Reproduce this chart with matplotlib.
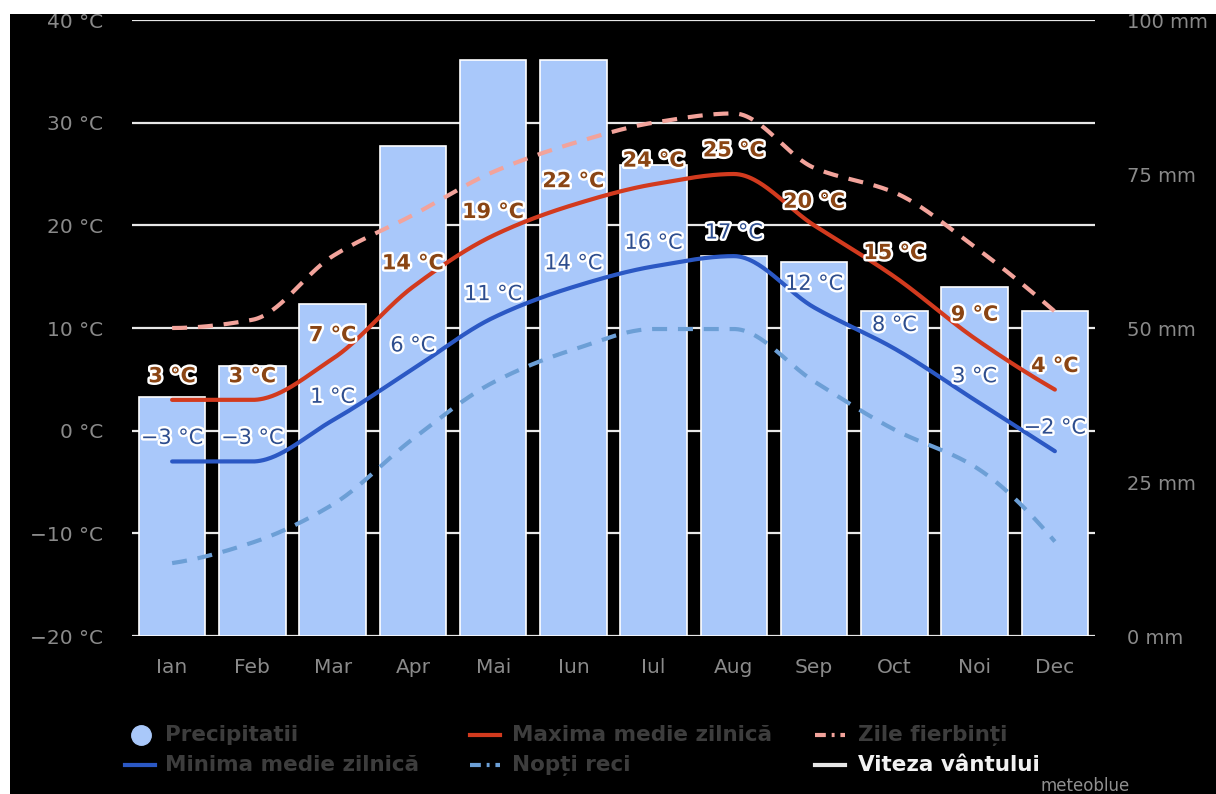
import numpy as np
import matplotlib
matplotlib.use("Agg")
import matplotlib.pyplot as plt
import matplotlib.patheffects as pe
from matplotlib.lines import Line2D
from matplotlib.patches import Rectangle

months = ["Ian", "Feb", "Mar", "Apr", "Mai", "Iun", "Iul", "Aug", "Sep", "Oct", "Noi", "Dec"]
precip_mm = [38.8, 43.8, 53.9, 79.5, 93.5, 93.5, 76.5, 61.7, 60.7, 52.8, 56.7, 52.8]
temp_max = [3, 3, 7, 14, 19, 22, 24, 25, 20, 15, 9, 4]
temp_min = [-3, -3, 1, 6, 11, 14, 16, 17, 12, 8, 3, -2]
hot_days = [10.0, 10.8, 17.0, 21.0, 25.2, 28.0, 30.0, 30.9, 25.6, 23.2, 17.9, 11.6]
cold_nights = [-12.9, -10.9, -7.2, -0.8, 4.7, 7.9, 9.9, 9.9, 4.8, 0.1, -3.5, -10.8]
temp_ticks = [-20, -10, 0, 10, 20, 30, 40]
precip_ticks = [0, 25, 50, 75, 100]

legend_labels = ["Precipitatii", "Maxima medie zilnică", "Zile fierbinți",
                 "Minima medie zilnică", "Nopți reci", "Viteza vântului"]

C_BAR = "#a9c8fa"
C_MAX = "#d23a1e"
C_MIN = "#2b58c4"
C_HOT = "#f2a39b"
C_COLD = "#6c9fd6"
C_MAXLBL = "#8a4514"
C_MINLBL = "#2d4d8e"
C_TICK = "#8a8a8a"
C_LEG = "#3d3d3d"


def pchip(x, y, xs):
    x = np.asarray(x, float)
    y = np.asarray(y, float)
    n = len(x)
    h = np.diff(x)
    delta = np.diff(y) / h
    d = np.zeros(n)
    for k in range(1, n - 1):
        if delta[k - 1] * delta[k] <= 0:
            d[k] = 0.0
        else:
            w1 = 2 * h[k] + h[k - 1]
            w2 = h[k] + 2 * h[k - 1]
            d[k] = (w1 + w2) / (w1 / delta[k - 1] + w2 / delta[k])

    def endslope(h0, h1, d0, d1):
        s = ((2 * h0 + h1) * d0 - h0 * d1) / (h0 + h1)
        if np.sign(s) != np.sign(d0):
            s = 0.0
        elif np.sign(d0) != np.sign(d1) and abs(s) > abs(3 * d0):
            s = 3 * d0
        return s

    d[0] = endslope(h[0], h[1], delta[0], delta[1])
    d[-1] = endslope(h[-1], h[-2], delta[-1], delta[-2])
    out = np.empty_like(xs, dtype=float)
    for i, xv in enumerate(xs):
        k = min(max(np.searchsorted(x, xv) - 1, 0), n - 2)
        t = (xv - x[k]) / h[k]
        h00 = 2 * t**3 - 3 * t**2 + 1
        h10 = t**3 - 2 * t**2 + t
        h01 = -2 * t**3 + 3 * t**2
        h11 = t**3 - t**2
        out[i] = h00 * y[k] + h10 * h[k] * d[k] + h01 * y[k + 1] + h11 * h[k] * d[k + 1]
    return out


W, H = 1216, 794
fig = plt.figure(figsize=(W / 100, H / 100), dpi=100, facecolor="white")
fig.add_artist(Rectangle((10 / W, 0), 1 - 10 / W, 1 - 14 / H, transform=fig.transFigure,
                         facecolor="black", edgecolor="none", zorder=-10))

ax_left, ax_right = 132 / W, 1095 / W
ax_bottom, ax_top = 1 - 636 / H, 1 - 20 / H
ax = fig.add_axes([ax_left, ax_bottom, ax_right - ax_left, ax_top - ax_bottom])
ax.set_facecolor("none")
ax2 = ax.twinx()

x = np.arange(len(months))
ax.set_xlim(-0.5, 11.5)
ax.set_ylim(-20, 40)
ax2.set_ylim(0, 100)

# grid
for t in temp_ticks:
    ax2.axhline((t + 20) / 60 * 100, color="#e8e8e8", lw=1.6, zorder=0.5)

# bars on precip axis
ax2.bar(x, precip_mm, width=0.83, color=C_BAR, edgecolor="white", linewidth=1.2, zorder=1)
ax2.set_zorder(1)
ax.set_zorder(2)

xs = np.linspace(0, 11, 600)
ax.plot(xs, pchip(x, hot_days, xs), color=C_HOT, lw=3, ls=(0, (3.6, 2.6)), zorder=3,
        dash_capstyle="butt")
ax.plot(xs, pchip(x, cold_nights, xs), color=C_COLD, lw=3, ls=(0, (3.6, 2.6)), zorder=3,
        dash_capstyle="butt")
ax.plot(xs, pchip(x, temp_max, xs), color=C_MAX, lw=3, zorder=4, solid_capstyle="round")
ax.plot(xs, pchip(x, temp_min, xs), color=C_MIN, lw=3, zorder=4, solid_capstyle="round")

halo = [pe.withStroke(linewidth=3.5, foreground="white")]
for i, v in enumerate(temp_max):
    ax.annotate(f"{v} °C", (x[i], v), xytext=(0, 17), textcoords="offset points",
                ha="center", va="center", fontsize=15, fontweight="bold",
                color=C_MAXLBL, path_effects=halo, zorder=6)
for i, v in enumerate(temp_min):
    txt = f"{v} °C".replace("-", "−")
    ax.annotate(txt, (x[i], v), xytext=(0, 17), textcoords="offset points",
                ha="center", va="center", fontsize=15,
                color=C_MINLBL, path_effects=halo, zorder=6)

ax.set_yticks(temp_ticks)
ax.set_yticklabels([f"{t} °C".replace("-", "−") for t in temp_ticks])
ax2.set_yticks(precip_ticks)
ax2.set_yticklabels([f"{t} mm" for t in precip_ticks])
ax.set_xticks(x)
ax.set_xticklabels(months)
for a in (ax, ax2):
    for s in a.spines.values():
        s.set_visible(False)
ax.tick_params(axis="y", length=0, pad=21, labelsize=14.5, labelcolor=C_TICK)
ax2.tick_params(axis="y", length=0, pad=23, labelsize=14, labelcolor=C_TICK)
ax.tick_params(axis="x", length=0, pad=16, labelsize=14.5, labelcolor=C_TICK)

# legend (manual)
def fx(px):
    return px / W

def fy(py):
    return 1 - py / H

leg_font = dict(fontsize=15.5, fontweight="bold", va="center", ha="left")
dashdot = (0, (2.6, 1.4, 0.7, 1.4))
r1, r2 = 735, 765
fig.add_artist(Line2D([fx(141)], [fy(r1)], marker="o", markersize=14, color=C_BAR,
                      transform=fig.transFigure))
fig.text(fx(165), fy(r1), legend_labels[0], color=C_LEG, **leg_font)
fig.add_artist(Line2D([fx(470), fx(500)], [fy(r1), fy(r1)], color=C_MAX, lw=3,
                      transform=fig.transFigure))
fig.text(fx(512), fy(r1), legend_labels[1], color=C_LEG, **leg_font)
fig.add_artist(Line2D([fx(815), fx(845)], [fy(r1), fy(r1)], color=C_HOT, lw=3,
                      ls=dashdot, transform=fig.transFigure))
fig.text(fx(858), fy(r1), legend_labels[2], color=C_LEG, **leg_font)
fig.add_artist(Line2D([fx(125), fx(155)], [fy(r2), fy(r2)], color=C_MIN, lw=3,
                      transform=fig.transFigure))
fig.text(fx(165), fy(r2), legend_labels[3], color=C_LEG, **leg_font)
fig.add_artist(Line2D([fx(470), fx(500)], [fy(r2), fy(r2)], color=C_COLD, lw=3,
                      ls=dashdot, transform=fig.transFigure))
fig.text(fx(512), fy(r2), legend_labels[4], color=C_LEG, **leg_font)
fig.add_artist(Line2D([fx(815), fx(845)], [fy(r2), fy(r2)], color="#e6e6e6", lw=3,
                      transform=fig.transFigure))
fig.text(fx(858), fy(r2), legend_labels[5], color="#f2f2f2", **leg_font)
fig.text(fx(1040), fy(786), "meteoblue", color="#909090", fontsize=12, ha="left", va="center")

fig.savefig("out.png", dpi=100, facecolor="white")
